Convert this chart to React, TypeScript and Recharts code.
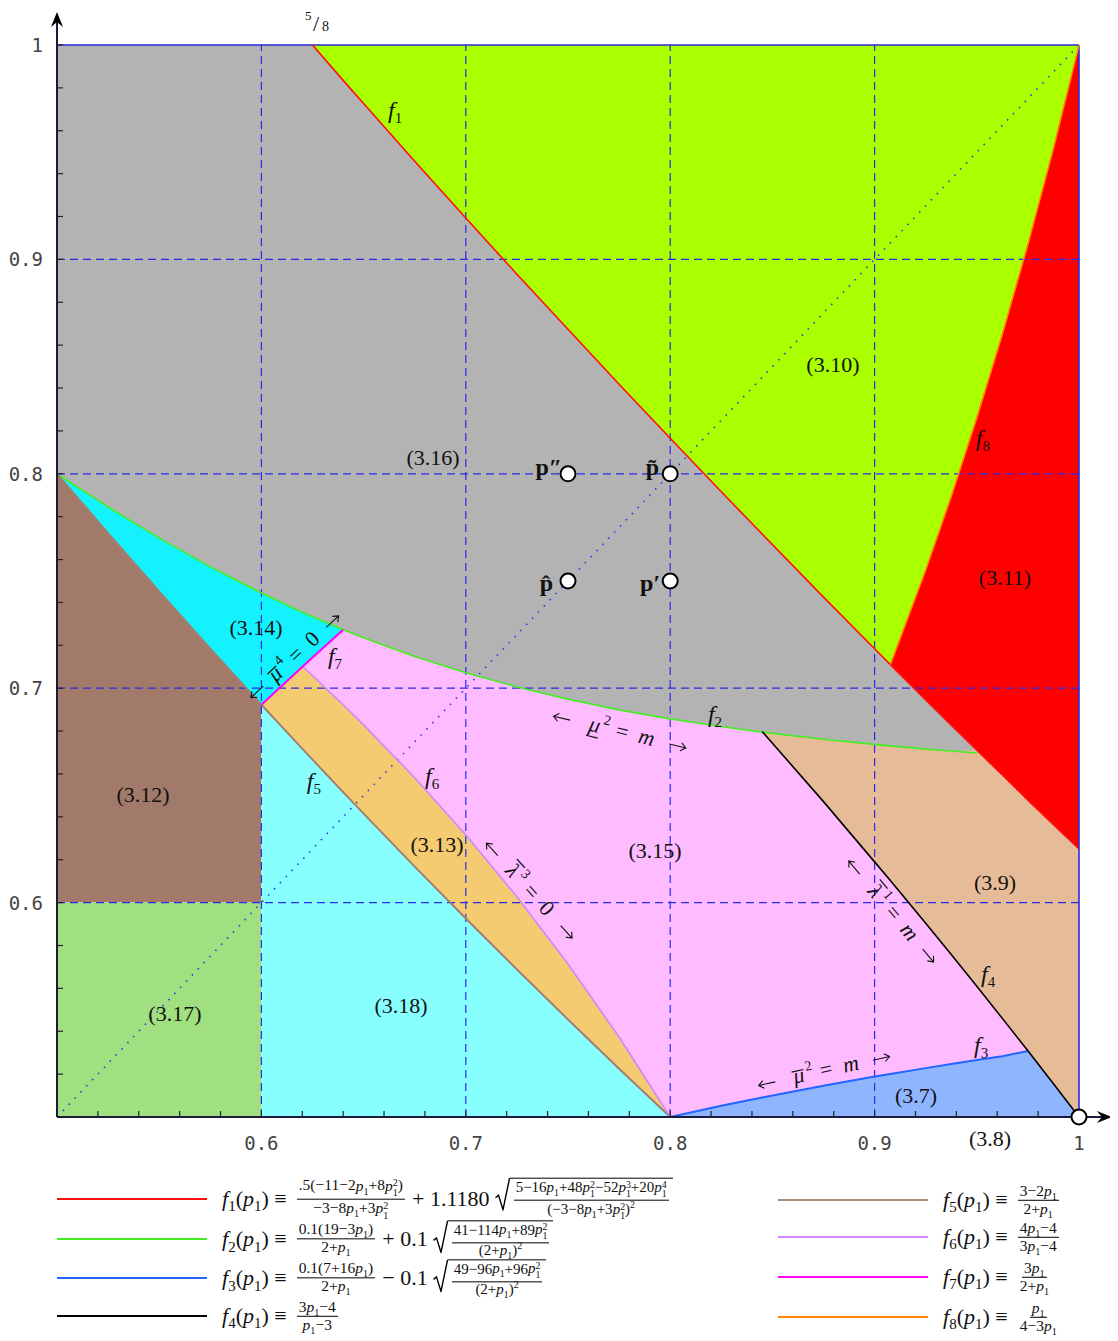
import React from 'react';
import { ComposedChart, Area, Line, Scatter, XAxis, YAxis, ReferenceLine, ReferenceDot } from 'recharts';

// p1 values where the boundary curves were read
const P1 = [0.5, 0.525, 0.55, 0.575, 0.6, 0.6202, 0.625, 0.64, 0.65, 0.675, 0.7, 0.725, 0.75, 0.775, 0.8, 0.825, 0.845, 0.875, 0.9, 0.9077, 0.925, 0.9375, 0.95, 0.9625, 0.975, 0.9875, 1];

// boundary curves f1..f8 (null = curve not drawn there)
const F1 = [null, null, null, null, null, null, 1.0, 0.9835, 0.9727, 0.9458, 0.9193, 0.8931, 0.8674, 0.8418, 0.8166, 0.7916, 0.7719, 0.7425, 0.7184, 0.711, 0.6945, 0.6828, 0.6711, 0.6595, 0.6478, 0.6364, 0.625];
const F2 = [0.8, 0.7845, 0.77, 0.7566, 0.7444, 0.7353, 0.7333, 0.7273, 0.7235, 0.7148, 0.7072, 0.7006, 0.6949, 0.6899, 0.6857, 0.6821, 0.6795, 0.6762, 0.6738, 0.6731, 0.6716, 0.6707, 0.6698, null, null, null, null];
const F3 = [null, null, null, null, null, null, null, null, null, null, null, null, null, null, 0.5, 0.5052, 0.5091, 0.5146, 0.5189, 0.5201, 0.5228, 0.5247, 0.5266, 0.5283, 0.5308, null, null];
const F4 = [null, null, null, null, null, null, null, null, null, null, null, null, null, null, null, null, 0.6798, 0.6471, 0.619, 0.6103, 0.5904, 0.5758, 0.561, 0.546, 0.5309, 0.5155, 0.5];
const F5 = [0.8, 0.7723, 0.7451, 0.7184, 0.6923, 0.6716, 0.6667, 0.6515, 0.6415, 0.6168, 0.5926, 0.5688, 0.5455, 0.5225, 0.5, null, null, null, null, null, null, null, null, null, null, null, null];
const F6 = [null, null, null, null, null, 0.7101, 0.7059, 0.6923, 0.6829, 0.6582, 0.6316, 0.6027, 0.5714, 0.5373, 0.5, null, null, null, null, null, null, null, null, null, null, null, null];
const F7 = [null, null, null, null, 0.6923, 0.7101, 0.7143, 0.7273, null, null, null, null, null, null, null, null, null, null, null, null, null, null, null, null, null, null, null];
const F8 = [null, null, null, null, null, null, null, null, null, null, null, null, null, null, null, null, null, null, null, 0.711, 0.7551, 0.7895, 0.8261, 0.8652, 0.907, 0.9518, 1.0];

const X_TICKS = [0.52, 0.54, 0.56, 0.58, 0.6, 0.62, 0.64, 0.66, 0.68, 0.7, 0.72, 0.74, 0.76, 0.78, 0.8, 0.82, 0.84, 0.86, 0.88, 0.9, 0.92, 0.94, 0.96, 0.98, 1];
const Y_TICKS = [0.52, 0.54, 0.56, 0.58, 0.6, 0.62, 0.64, 0.66, 0.68, 0.7, 0.72, 0.74, 0.76, 0.78, 0.8, 0.82, 0.84, 0.86, 0.88, 0.9, 0.92, 0.94, 0.96, 0.98, 1];
const MAJOR = [0.6, 0.7, 0.8, 0.9, 1];
const GRID = [0.6, 0.7, 0.8, 0.9];

const POINTS = [
  { p: 0.75, y: 0.8, name: 'p\u2033' },
  { p: 0.8, y: 0.8, name: 'p\u0303' },
  { p: 0.75, y: 0.75, name: 'p\u0302' },
  { p: 0.8, y: 0.75, name: 'p\u2032' },
  { p: 1, y: 0.5, name: '' },
];

const band = (lo: any, hi: any) => (lo == null || hi == null ? null : [lo, hi]);

// each region: lower and upper boundary picked from the curves above
const REGIONS = [
  { key: 'r316', fill: '#b3b3b3', lo: (i: number, p: number) => F2[i], hi: (i: number, p: number) => (p < 0.625 ? 1 : F1[i]) },
  { key: 'r310', fill: '#aaff00', lo: (i: number, p: number) => (p < 0.9077 ? F1[i] : F8[i]), hi: () => 1 },
  { key: 'r311', fill: '#ff0000', lo: (i: number) => F1[i], hi: (i: number) => F8[i] },
  { key: 'r39', fill: '#e6bb98', lo: (i: number) => F4[i], hi: (i: number, p: number) => (p < 0.95 ? F2[i] : F1[i]) },
  { key: 'r315', fill: '#ffbbff', lo: (i: number, p: number) => (p < 0.8 ? F6[i] : F3[i]), hi: (i: number, p: number) => (p < 0.64 ? F7[i] : p < 0.845 ? F2[i] : F4[i]) },
  { key: 'r37', fill: '#8fb5ff', lo: (i: number, p: number) => (p >= 0.8 ? 0.5 : null), hi: (i: number, p: number) => (p < 0.975 ? F3[i] : F4[i]) },
  { key: 'r313', fill: '#f5cb72', lo: (i: number) => F5[i], hi: (i: number, p: number) => (p < 0.6202 ? F7[i] : F6[i]) },
  { key: 'r314', fill: '#14f2ff', lo: (i: number, p: number) => (p < 0.6 ? F5[i] : F7[i]), hi: (i: number) => F2[i] },
  { key: 'r312', fill: '#a27a6a', lo: (i: number, p: number) => (p <= 0.6 ? 0.6 : null), hi: (i: number) => F5[i] },
  { key: 'r317', fill: '#a0e080', lo: (i: number, p: number) => (p <= 0.6 ? 0.5 : null), hi: (i: number, p: number) => (p <= 0.6 ? 0.6 : null) },
  { key: 'r318', fill: '#88ffff', lo: (i: number, p: number) => (p >= 0.6 ? 0.5 : null), hi: (i: number) => F5[i] },
];

const ROWS = P1.map((p, i) => {
  const row: any = { p, f1: F1[i], f2: F2[i], f3: F3[i], f4: F4[i], f5: F5[i], f6: F6[i], f7: F7[i], f8: F8[i] };
  REGIONS.forEach((r) => {
    row[r.key] = band(r.lo(i, p), r.hi(i, p));
  });
  return row;
});

const CURVES = [
  { key: 'f1', color: '#ff1010', width: 1.6 },
  { key: 'f2', color: '#44ee22', width: 1.6 },
  { key: 'f3', color: '#2266ff', width: 2 },
  { key: 'f4', color: '#000000', width: 1.6 },
  { key: 'f5', color: '#a08070', width: 2 },
  { key: 'f6', color: '#cc88ff', width: 1.6 },
  { key: 'f7', color: '#ff00ff', width: 2 },
  { key: 'f8', color: '#ff8800', width: 1.6 },
];

const SERIF = 'Liberation Serif, DejaVu Serif, serif';
const MONO = 'DejaVu Sans Mono, monospace';

const REGION_LABELS: [string, number, number][] = [
  ['(3.16)', 0.684, 0.8074],
  ['(3.10)', 0.8796, 0.8512],
  ['(3.11)', 0.9638, 0.7514],
  ['(3.14)', 0.5974, 0.7281],
  ['(3.12)', 0.5421, 0.6502],
  ['(3.13)', 0.6859, 0.6269],
  ['(3.15)', 0.7926, 0.6245],
  ['(3.9)', 0.9589, 0.6096],
  ['(3.17)', 0.5577, 0.5485],
  ['(3.18)', 0.6683, 0.5518],
  ['(3.7)', 0.9203, 0.5098],
  ['(3.8)', 0.9565, 0.4902],
];

const CURVE_LABELS: [string, number, number][] = [
  ['1', 0.6654, 0.9688],
  ['2', 0.8219, 0.687],
  ['3', 0.9521, 0.5326],
  ['4', 0.9555, 0.5658],
  ['5', 0.6257, 0.6558],
  ['6', 0.6835, 0.6581],
  ['7', 0.636, 0.7141],
  ['8', 0.953, 0.8158],
];

const ANNOTS = [
  { x: 0.616, y: 0.715, angle: -43, sym: '\u03bc', mark: 'over', sup: '4', rhs: '0', half: 60 },
  { x: 0.7754, y: 0.68, angle: 13.5, sym: '\u03bc', mark: 'under', sup: '2', rhs: 'm', half: 68 },
  { x: 0.7314, y: 0.6059, angle: 48, sym: '\u03bb', mark: 'over', sup: '3', rhs: '0', half: 64 },
  { x: 0.9085, y: 0.5961, angle: 50, sym: '\u03bb', mark: 'over', sup: '1', rhs: 'm', half: 66 },
  { x: 0.8752, y: 0.5219, angle: -12.5, sym: '\u03bc', mark: 'over', sup: '2', rhs: 'm', half: 67 },
];

const LABEL_SHIFT: Record<string, [number, number]> = {
  'p\u2033': [-6, 1],
  'p\u0303': [-11, 1],
  'p\u0302': [-15, 10],
  'p\u2032': [-10, 10],
};

const renderXTick = (props: any) => {
  const { x, y, payload } = props;
  if (!MAJOR.includes(payload.value)) return <g />;
  return (
    <text x={x} y={y + 32} textAnchor="middle" dominantBaseline="central" fontFamily={MONO} fontSize={19} fill="#444">
      {String(payload.value)}
    </text>
  );
};

const renderYTick = (props: any) => {
  const { x, y, payload } = props;
  if (!MAJOR.includes(payload.value)) return <g />;
  return (
    <text x={x - 20} y={y} textAnchor="end" dominantBaseline="central" fontFamily={MONO} fontSize={19} fill="#444">
      {String(payload.value)}
    </text>
  );
};

const arrow = (dir: 'x' | 'y') => (props: any) => {
  const { x1, y1, x2, y2 } = props;
  const head =
    dir === 'x'
      ? `${x2},${y2} ${x2 - 15},${y2 - 6} ${x2 - 10},${y2} ${x2 - 15},${y2 + 6}`
      : `${x2},${y2} ${x2 - 6},${y2 + 15} ${x2},${y2 + 10} ${x2 + 6},${y2 + 15}`;
  return (
    <g>
      <line x1={x1} y1={y1} x2={dir === 'x' ? x2 - 8 : x2} y2={dir === 'y' ? y2 + 8 : y2} stroke="#1a1a3a" strokeWidth={2} />
      <polygon points={head} fill="#000" />
    </g>
  );
};

const renderPoint = (props: any) => {
  const { cx, cy, payload } = props;
  const s = LABEL_SHIFT[payload.name];
  return (
    <g>
      <circle cx={cx} cy={cy} r={7.5} fill="#fff" stroke="#000" strokeWidth={2} />
      {s && (
        <text x={cx + s[0]} y={cy + s[1]} textAnchor="end" fontFamily={SERIF} fontWeight="bold" fontSize={24} fill="#111">
          {payload.name}
        </text>
      )}
    </g>
  );
};

const regionLabel = (text: string) => (props: any) => (
  <text x={props.cx} y={props.cy} textAnchor="middle" dominantBaseline="central" fontFamily={SERIF} fontSize={22} fill="#111">
    {text}
  </text>
);

const curveLabel = (n: string) => (props: any) => (
  <text x={props.cx} y={props.cy + 6} textAnchor="middle" fontFamily={SERIF} fill="#111">
    <tspan fontStyle="italic" fontSize={24}>f</tspan>
    <tspan fontSize={15} dy={5}>{n}</tspan>
  </text>
);

const annotLabel = (a: any) => (props: any) => {
  const { cx, cy } = props;
  const h = a.half;
  const barY = a.mark === 'under' ? cy + 12 : a.sym === '\u03bb' ? cy - 11 : cy - 5;
  const ay = cy + 1;
  return (
    <g transform={`rotate(${a.angle} ${cx} ${cy})`}>
      <text x={cx - 26} y={cy + 7} textAnchor="middle" fontFamily={SERIF} fontStyle="italic" fontSize={22} fill="#111">
        {a.sym}
      </text>
      <line x1={cx - 32} x2={cx - 20} y1={barY} y2={barY} stroke="#111" strokeWidth={1.2} />
      <text x={cx - 18} y={cy - 3} fontFamily={SERIF} fontSize={14} fill="#111">
        {a.sup}
      </text>
      <text x={cx - 4} y={cy + 7} fontFamily={SERIF} fontSize={22} fill="#111">
        {'=\u2002'}
        <tspan fontStyle={a.rhs === 'm' ? 'italic' : 'normal'}>{a.rhs}</tspan>
      </text>
      <path
        d={`M${cx - h + 17} ${ay} L${cx - h} ${ay} M${cx - h + 5} ${ay - 4} L${cx - h} ${ay} L${cx - h + 5} ${ay + 4}`}
        stroke="#111"
        strokeWidth={1.1}
        fill="none"
      />
      <path
        d={`M${cx + h - 17} ${ay} L${cx + h} ${ay} M${cx + h - 5} ${ay - 4} L${cx + h} ${ay} L${cx + h - 5} ${ay + 4}`}
        stroke="#111"
        strokeWidth={1.1}
        fill="none"
      />
    </g>
  );
};

const fiveEighths = (props: any) => {
  const { cx, cy } = props;
  return (
    <text fontFamily={SERIF} fill="#111">
      <tspan x={cx - 7.5} y={cy - 25} fontSize={13}>5</tspan>
      <tspan x={cx + 0.5} y={cy - 14} fontSize={22}>/</tspan>
      <tspan x={cx + 9.5} y={cy - 14} fontSize={14}>8</tspan>
    </text>
  );
};

// ---- legend typesetting ----
const pv = (e?: string) => (
  <span style={{ whiteSpace: 'nowrap' }}>
    <i>p</i>
    {e ? (
      <span style={{ display: 'inline-flex', flexDirection: 'column', fontSize: '0.66em', lineHeight: 0.95, verticalAlign: '0.45em' }}>
        <span>{e}</span>
        <span>1</span>
      </span>
    ) : (
      <sub style={{ fontSize: '0.66em', lineHeight: 0 }}>1</sub>
    )}
  </span>
);

const Frac = ({ n, d, tight }: { n: React.ReactNode; d: React.ReactNode; tight?: boolean }) => (
  <span
    style={{
      display: 'inline-flex',
      flexDirection: 'column',
      alignItems: 'center',
      verticalAlign: 'middle',
      fontSize: tight ? 15 : 15.5,
      lineHeight: tight ? 0.9 : 0.95,
      margin: '0 4px',
    }}
  >
    <span style={{ borderBottom: '1.6px solid #000', padding: '0 2px 1px' }}>{n}</span>
    <span style={{ padding: '1px 2px 0' }}>{d}</span>
  </span>
);

const sq = <sup style={{ fontSize: 10, lineHeight: 0 }}>2</sup>;

const Sqrt = ({ children }: { children: React.ReactNode }) => (
  <span style={{ display: 'inline-flex', alignItems: 'flex-start', verticalAlign: 'middle', marginLeft: 2 }}>
    <svg width={15} height={33} viewBox="0 0 15 33">
      <path d="M0.5 20 L3.5 17.5 L8 32 L14.5 0.8 L15 0.8" fill="none" stroke="#000" strokeWidth={1.4} />
    </svg>
    <span style={{ borderTop: '1.6px solid #000', paddingTop: 1, display: 'inline-flex' }}>{children}</span>
  </span>
);

const Lhs = ({ n }: { n: string }) => (
  <span style={{ marginRight: 6, whiteSpace: 'nowrap' }}>
    <i>f</i>
    <sub style={{ fontSize: 15, lineHeight: 0 }}>{n}</sub>(<i>p</i>
    <sub style={{ fontSize: 15, lineHeight: 0 }}>1</sub>) &#8801;
  </span>
);

const FORMULAS: Record<string, React.ReactNode> = {
  f1: (
    <>
      <Frac n={<>.5(−11−2{pv()}+8{pv('2')})</>} d={<>−3−8{pv()}+3{pv('2')}</>} />
      <span style={{ margin: '0 3px' }}>+ 1.1180</span>
      <Sqrt>
        <Frac tight n={<>5−16{pv()}+48{pv('2')}−52{pv('3')}+20{pv('4')}</>} d={<>(−3−8{pv()}+3{pv('2')}){sq}</>} />
      </Sqrt>
    </>
  ),
  f2: (
    <>
      <Frac n={<>0.1(19−3{pv()})</>} d={<>2+{pv()}</>} />
      <span style={{ margin: '0 3px' }}>+ 0.1</span>
      <Sqrt>
        <Frac tight n={<>41−114{pv()}+89{pv('2')}</>} d={<>(2+{pv()}){sq}</>} />
      </Sqrt>
    </>
  ),
  f3: (
    <>
      <Frac n={<>0.1(7+16{pv()})</>} d={<>2+{pv()}</>} />
      <span style={{ margin: '0 3px' }}>− 0.1</span>
      <Sqrt>
        <Frac tight n={<>49−96{pv()}+96{pv('2')}</>} d={<>(2+{pv()}){sq}</>} />
      </Sqrt>
    </>
  ),
  f4: <Frac n={<>3{pv()}−4</>} d={<>{pv()}−3</>} />,
  f5: <Frac n={<>3−2{pv()}</>} d={<>2+{pv()}</>} />,
  f6: <Frac n={<>4{pv()}−4</>} d={<>3{pv()}−4</>} />,
  f7: <Frac n={<>3{pv()}</>} d={<>2+{pv()}</>} />,
  f8: <Frac n={<>{pv()}</>} d={<>4−3{pv()}</>} />,
};

const LEGEND_ROWS = [
  { key: 'f1', n: '1', color: '#ff1010', line: 49, text: 214, top: 1191 },
  { key: 'f2', n: '2', color: '#44ee22', line: 49, text: 214, top: 1231 },
  { key: 'f3', n: '3', color: '#2266ff', line: 49, text: 214, top: 1270 },
  { key: 'f4', n: '4', color: '#000000', line: 49, text: 214, top: 1308 },
  { key: 'f5', n: '5', color: '#b08a7a', line: 770, text: 935, top: 1192 },
  { key: 'f6', n: '6', color: '#dd88ff', line: 770, text: 935, top: 1229 },
  { key: 'f7', n: '7', color: '#ff00ff', line: 770, text: 935, top: 1269 },
  { key: 'f8', n: '8', color: '#ff8800', line: 770, text: 935, top: 1309 },
];

export default function App() {
  return (
    <div style={{ position: 'relative', width: 1110, height: 1333 }}>
      <style>{'html,body{overflow:hidden}'}</style>
      <ComposedChart width={1110} height={1160} data={ROWS} margin={{ top: 37, right: 39, bottom: 11, left: 9 }}>
        <XAxis
          dataKey="p"
          type="number"
          domain={[0.5, 1]}
          ticks={X_TICKS}
          interval={0}
          height={40}
          tickSize={-6}
          tickMargin={0}
          tick={renderXTick}
          axisLine={{ stroke: '#1a1a3a', strokeWidth: 2 }}
          tickLine={{ stroke: '#222', strokeWidth: 1.2 }}
        />
        <YAxis
          type="number"
          domain={[0.5, 1]}
          ticks={Y_TICKS}
          interval={0}
          width={40}
          tickSize={-6}
          tickMargin={0}
          tick={renderYTick}
          axisLine={{ stroke: '#1a1a3a', strokeWidth: 2 }}
          tickLine={{ stroke: '#222', strokeWidth: 1.2 }}
        />

        {REGIONS.map((r) => (
          <Area
            key={r.key}
            dataKey={r.key}
            type="linear"
            fill={r.fill}
            fillOpacity={1}
            stroke="none"
            dot={false}
            activeDot={false}
            isAnimationActive={false}
          />
        ))}

        {GRID.map((v) => (
          <ReferenceLine key={'h' + v} y={v} stroke="#2b2be6" strokeDasharray="8 5" strokeWidth={1.2} />
        ))}
        {GRID.map((v) => (
          <ReferenceLine key={'v' + v} x={v} stroke="#2b2be6" strokeDasharray="8 5" strokeWidth={1.2} />
        ))}
        <ReferenceLine segment={[{ x: 0.5, y: 0.5 }, { x: 1, y: 1 }]} stroke="#2b3be0" strokeDasharray="1.5 7" strokeWidth={1.6} />
        <ReferenceLine y={1} stroke="#2a2ad8" strokeWidth={1.6} />
        <ReferenceLine x={1} stroke="#2a2ad8" strokeWidth={1.6} />

        {CURVES.map((c) => (
          <Line
            key={c.key}
            dataKey={c.key}
            type="linear"
            stroke={c.color}
            strokeWidth={c.width}
            dot={false}
            activeDot={false}
            isAnimationActive={false}
          />
        ))}

        <ReferenceLine segment={[{ x: 1, y: 0.5 }, { x: 1.0161, y: 0.5 }]} ifOverflow="visible" shape={arrow('x')} />
        <ReferenceLine segment={[{ x: 0.5, y: 1 }, { x: 0.5, y: 1.0154 }]} ifOverflow="visible" shape={arrow('y')} />

        <Scatter data={POINTS} dataKey="y" shape={renderPoint} isAnimationActive={false} />

        {REGION_LABELS.map(([t, x, y]) => (
          <ReferenceDot key={t} x={x} y={y} r={0} ifOverflow="visible" shape={regionLabel(t)} />
        ))}
        {CURVE_LABELS.map(([n, x, y]) => (
          <ReferenceDot key={'f' + n} x={x} y={y} r={0} ifOverflow="visible" shape={curveLabel(n)} />
        ))}
        {ANNOTS.map((a, i) => (
          <ReferenceDot key={'a' + i} x={a.x} y={a.y} r={0} ifOverflow="visible" shape={annotLabel(a)} />
        ))}
        <ReferenceDot x={0.625} y={1} r={0} ifOverflow="visible" shape={fiveEighths} />
      </ComposedChart>

      {LEGEND_ROWS.map((r) => (
        <React.Fragment key={r.key}>
          <div style={{ position: 'absolute', left: r.line, top: r.top - 1, width: 150, height: 2, background: r.color }} />
          <div
            style={{
              position: 'absolute',
              left: r.text,
              top: r.top,
              transform: 'translateY(-50%)',
              display: 'flex',
              alignItems: 'center',
              whiteSpace: 'nowrap',
              fontFamily: SERIF,
              fontSize: 22,
              color: '#111',
            }}
          >
            <Lhs n={r.n} />
            {FORMULAS[r.key]}
          </div>
        </React.Fragment>
      ))}
    </div>
  );
}
